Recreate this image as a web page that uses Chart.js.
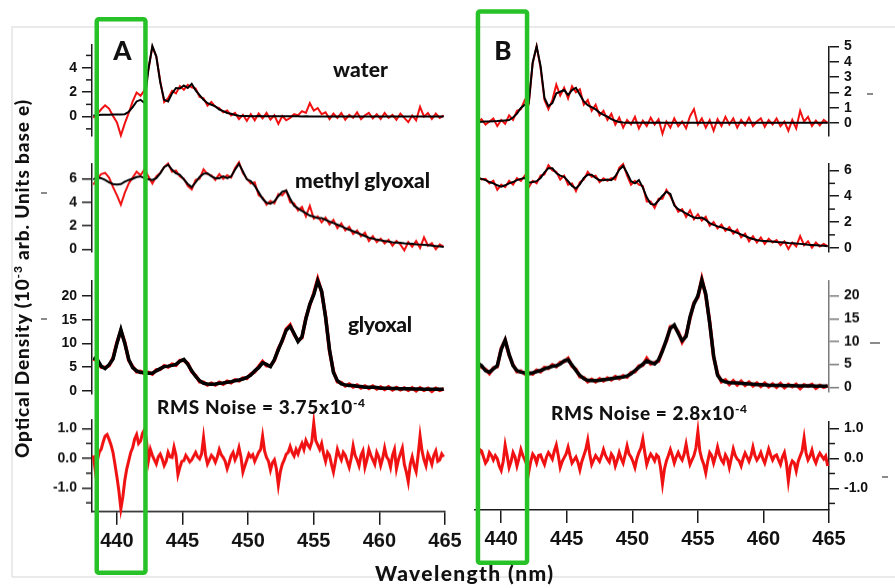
<!DOCTYPE html>
<html>
<head>
<meta charset="utf-8">
<script src="https://cdn.jsdelivr.net/npm/chart.js@4.4.1/dist/chart.umd.min.js"></script>
<style>
  body { margin: 0; background: #fff; }
  #fig { position: relative; width: 895px; height: 588px; overflow: hidden; background: #fff; }
  #fig canvas { position: absolute; }
  #overlay { position: absolute; left: 0; top: 0; pointer-events: none; }
</style>
</head>
<body>
<div id="fig">
<svg id="overlay" width="895" height="588" font-family="Lato, 'Open Sans', sans-serif" font-weight="900" fill="#111">
  <path d="M12 577 V27 H900 M12 577 H900" fill="none" stroke="#e3e3e3" stroke-width="1.5"/>
  <path d="M41 193h6 M41 319h6 M867 94h6 M870 343h10 M882 477h6" stroke="#666" stroke-width="1.5"/>
  <rect x="96.75" y="19.25" width="48.7" height="553.5" rx="2" fill="none" stroke="#27c227" stroke-width="4.5"/>
  <rect x="477.95" y="11.55" width="49.1" height="551.2" rx="2" fill="none" stroke="#27c227" stroke-width="4.5"/>
  <text x="122.5" y="60" font-size="26" text-anchor="middle">A</text>
  <text x="503" y="60" font-size="26" text-anchor="middle">B</text>
  <text x="360.5" y="76.7" font-size="21" text-anchor="middle" textLength="55">water</text>
  <text x="362.5" y="188" font-size="21" text-anchor="middle" textLength="135">methyl glyoxal</text>
  <text x="380" y="331.5" font-size="21" text-anchor="middle" textLength="64">glyoxal</text>
  <text x="157" y="414" font-size="19" textLength="208">RMS Noise = 3.75x10<tspan dy="-7" font-size="12">-4</tspan></text>
  <text x="551" y="419.5" font-size="19" textLength="196">RMS Noise = 2.8x10<tspan dy="-7" font-size="12">-4</tspan></text>
  <text x="464" y="581" font-size="21" text-anchor="middle" textLength="178">Wavelength (nm)</text>
  <text transform="translate(29,279) rotate(-90)" font-size="19" text-anchor="middle" textLength="358">Optical Density (10<tspan dy="-7" font-size="12">-3</tspan><tspan dy="7"> arb. Units base e)</tspan></text>
</svg>
</div>
<script>
// wavelength grid (nm) for the spectra and fits
const wavelength = [
  438.2, 438.5, 438.8, 439.1, 439.4, 439.7, 440.0, 440.3, 440.6, 440.9,
  441.2, 441.5, 441.8, 442.1, 442.4, 442.7, 443.0, 443.3, 443.6, 443.9,
  444.2, 444.5, 444.8, 445.1, 445.4, 445.7, 446.0, 446.3, 446.6, 446.9,
  447.2, 447.5, 447.8, 448.1, 448.4, 448.7, 449.0, 449.3, 449.6, 449.9,
  450.2, 450.5, 450.8, 451.1, 451.4, 451.7, 452.0, 452.3, 452.6, 452.9,
  453.2, 453.5, 453.8, 454.1, 454.4, 454.7, 455.0, 455.3, 455.6, 455.9,
  456.2, 456.5, 456.8, 457.1, 457.4, 457.7, 458.0, 458.3, 458.6, 458.9,
  459.2, 459.5, 459.8, 460.1, 460.4, 460.7, 461.0, 461.3, 461.6, 461.9,
  462.2, 462.5, 462.8, 463.1, 463.4, 463.7, 464.0, 464.3, 464.6, 464.9
];
// finer grid for the residuals
const wavelengthFine = [
  438.20, 438.35, 438.50, 438.65, 438.80, 438.95, 439.10, 439.25, 439.40, 439.55,
  439.70, 439.85, 440.00, 440.15, 440.30, 440.45, 440.60, 440.75, 440.90, 441.05,
  441.20, 441.35, 441.50, 441.65, 441.80, 441.95, 442.10, 442.25, 442.40, 442.55,
  442.70, 442.85, 443.00, 443.15, 443.30, 443.45, 443.60, 443.75, 443.90, 444.05,
  444.20, 444.35, 444.50, 444.65, 444.80, 444.95, 445.10, 445.25, 445.40, 445.55,
  445.70, 445.85, 446.00, 446.15, 446.30, 446.45, 446.60, 446.75, 446.90, 447.05,
  447.20, 447.35, 447.50, 447.65, 447.80, 447.95, 448.10, 448.25, 448.40, 448.55,
  448.70, 448.85, 449.00, 449.15, 449.30, 449.45, 449.60, 449.75, 449.90, 450.05,
  450.20, 450.35, 450.50, 450.65, 450.80, 450.95, 451.10, 451.25, 451.40, 451.55,
  451.70, 451.85, 452.00, 452.15, 452.30, 452.45, 452.60, 452.75, 452.90, 453.05,
  453.20, 453.35, 453.50, 453.65, 453.80, 453.95, 454.10, 454.25, 454.40, 454.55,
  454.70, 454.85, 455.00, 455.15, 455.30, 455.45, 455.60, 455.75, 455.90, 456.05,
  456.20, 456.35, 456.50, 456.65, 456.80, 456.95, 457.10, 457.25, 457.40, 457.55,
  457.70, 457.85, 458.00, 458.15, 458.30, 458.45, 458.60, 458.75, 458.90, 459.05,
  459.20, 459.35, 459.50, 459.65, 459.80, 459.95, 460.10, 460.25, 460.40, 460.55,
  460.70, 460.85, 461.00, 461.15, 461.30, 461.45, 461.60, 461.75, 461.90, 462.05,
  462.20, 462.35, 462.50, 462.65, 462.80, 462.95, 463.10, 463.25, 463.40, 463.55,
  463.70, 463.85, 464.00, 464.15, 464.30, 464.45, 464.60, 464.75, 464.90
];

// ---- panel A ----
const waterA = [
  -0.1, 0.2, 0.6, 0.92, 0.66, 0.05, -0.48, -1.53, -0.55, 0.3,
  1.24, 1.97, 1.71, 2.15, 3.87, 5.7, 4.9, 2.9, 1.2, 1.5,
  2.1, 1.9, 2.5, 2.2, 2.6, 2.4, 2.3, 1.6, 1.5, 0.9,
  1.2, 0.8, 0.7, 0.35, 0.5, 0.1, 0.3, -0.2, 0.15, -0.35,
  0.2, -0.3, 0.25, -0.15, 0.3, -0.25, 0.1, -0.6, 0.05, -0.3,
  -0.1, 0.2, 0.1, 0.45, 0.3, 1.1, 0.5, 0.7, 0.2, 0.35,
  -0.2, 0.25, -0.1, 0.3, -0.25, 0.15, -0.1, 0.35, -0.2, 0.1,
  0.3, -0.15, 0.2, -0.2, 0.3, -0.1, 0.15, -0.25, 0.25, -0.1,
  -0.45, 0.1, -0.3, 0.8, 0.0, 0.3, -0.2, 0.25, -0.1, 0.1
];
const waterFitA = [
  0.1, 0.12, 0.15, 0.15, 0.15, 0.18, 0.18, 0.18, 0.2, 0.4,
  0.78, 1.24, 1.37, 1.1, 3.87, 5.77, 4.93, 2.8, 1.37, 1.24,
  1.9, 2.34, 2.3, 2.55, 2.34, 2.68, 2.15, 1.76, 1.37, 1.1,
  0.97, 0.84, 0.58, 0.45, 0.3, 0.23, 0.13, 0.08, 0.05, 0.05,
  0.04, 0.04, 0.05, 0.04, 0.04, 0.03, 0.04, 0.03, 0.03, 0.03,
  0.03, 0.03, 0.03, 0.02, 0.03, 0.02, 0.02, 0.02, 0.02, 0.02,
  0.02, 0.02, 0.02, 0.02, 0.02, 0.02, 0.02, 0.02, 0.02, 0.02,
  0.02, 0.02, 0.02, 0.02, 0.02, 0.02, 0.02, 0.02, 0.02, 0.02,
  0.02, 0.02, 0.02, 0.02, 0.02, 0.02, 0.02, 0.02, 0.02, 0.02
];
const methylA = [
  5.5, 6.0, 6.4, 6.5, 6.1, 5.3, 4.6, 3.8, 4.8, 5.6,
  6.1, 6.6, 6.3, 6.8, 6.2, 5.6, 6.2, 6.5, 7.0, 7.3,
  6.6, 6.7, 6.2, 6.0, 5.4, 5.1, 5.9, 6.0, 6.8, 6.4,
  6.3, 5.9, 6.4, 6.0, 6.3, 6.1, 6.9, 7.4, 6.5, 6.0,
  5.6, 5.7, 4.6, 4.4, 3.8, 4.1, 3.9, 4.7, 4.6, 5.0,
  4.0, 3.9, 3.3, 3.6, 2.8, 3.7, 2.6, 2.8, 2.3, 2.7,
  2.1, 2.5, 1.8, 2.2, 1.6, 1.9, 1.3, 1.6, 1.1, 1.4,
  0.7, 1.1, 0.6, 0.9, 0.5, 0.8, 0.3, 0.7, 0.4, -0.1,
  0.6, 0.2, 0.7, 0.1, 1.0, 0.3, 0.5, 0.0, 0.4, 0.2
];
const methylFitA = [
  5.95, 6.1, 6.05, 5.9, 5.7, 5.55, 5.5, 5.55, 5.75, 5.9,
  6.0, 6.15, 6.2, 6.05, 5.95, 5.9, 6.05, 6.47, 7.0, 7.2,
  6.77, 6.47, 6.34, 5.95, 5.55, 5.28, 5.7, 6.15, 6.44, 6.47,
  6.2, 6.05, 6.05, 6.2, 6.05, 6.2, 6.77, 7.28, 6.63, 5.95,
  5.8, 5.4, 4.85, 4.3, 3.96, 3.88, 4.07, 4.52, 4.9, 5.0,
  4.3, 3.7, 3.47, 3.25, 3.06, 2.86, 2.78, 2.64, 2.64, 2.5,
  2.36, 2.23, 2.09, 1.95, 1.8, 1.66, 1.53, 1.4, 1.26, 1.12,
  0.98, 0.9, 0.81, 0.75, 0.7, 0.64, 0.59, 0.56, 0.53, 0.5,
  0.48, 0.45, 0.42, 0.4, 0.37, 0.34, 0.3, 0.27, 0.24, 0.2
];
const glyoxalA = [
  6.7, 6.4, 5.0, 4.9, 5.3, 6.9, 10.2, 12.7, 10.2, 6.4,
  5.1, 4.0, 4.1, 3.6, 3.9, 3.5, 4.4, 4.5, 5.3, 5.0,
  5.6, 5.4, 6.4, 6.4, 5.8, 4.0, 3.2, 1.9, 1.8, 1.2,
  1.6, 1.2, 1.8, 1.4, 2.0, 1.7, 2.3, 2.1, 2.7, 2.6,
  3.5, 4.0, 5.1, 6.2, 5.3, 5.3, 6.4, 8.9, 10.5, 13.0,
  13.9, 11.9, 10.6, 11.2, 15.4, 18.1, 20.6, 23.6, 20.8, 15.7,
  8.4, 4.1, 1.9, 1.7, 1.0, 1.4, 0.8, 1.2, 0.6, 1.0,
  0.5, 1.0, 0.4, 0.8, 0.3, 0.8, 0.2, 0.7, 0.2, 0.6,
  0.1, 0.6, 0.0, 0.6, 0.1, 0.5, -0.1, 0.5, 0.1, 0.4
];
const glyoxalFitA = [
  6.95, 6.6, 5.2, 4.67, 5.5, 6.7, 10.0, 12.9, 10.0, 6.6,
  4.88, 4.2, 3.85, 3.85, 3.7, 3.7, 4.2, 4.67, 5.1, 5.2,
  5.36, 5.57, 6.25, 6.6, 5.57, 4.2, 3.03, 2.13, 1.58, 1.44,
  1.37, 1.44, 1.58, 1.65, 1.79, 1.92, 2.13, 2.27, 2.47, 2.82,
  3.3, 4.2, 4.88, 5.9, 5.57, 5.09, 6.6, 8.66, 10.7, 12.8,
  13.6, 12.1, 10.4, 11.4, 15.2, 18.3, 20.3, 23.2, 21.0, 15.5,
  8.66, 3.85, 2.13, 1.44, 1.24, 1.1, 1.1, 0.96, 0.9, 0.76,
  0.76, 0.76, 0.7, 0.55, 0.55, 0.55, 0.5, 0.48, 0.45, 0.42,
  0.4, 0.38, 0.36, 0.35, 0.34, 0.33, 0.32, 0.31, 0.3, 0.3
];
const residualA = [
  0.1, -0.4, -0.08, 0.2, 0.31, 0.55, 0.75, 0.8, 0.64, 0.45,
  0.2, -0.2, -0.63, -1.1, -1.7, -1.3, -0.74, -0.35, -0.08, 0.2,
  0.36, 0.65, 0.8, 0.5, 0.58, 0.85, 0.97, 0.6, -0.08, 0.3,
  0.1, -0.05, -0.19, 0.05, 0.14, -0.02, -0.24, -0.1, 0.2, 0.05,
  0.03, 0.38, 0.1, -0.55, -0.3, -0.1, -0.08, 0.1, 0.0, -0.12,
  -0.05, 0.08, 0.2, 0.05, -0.02, 0.15, 0.7, 0.12, -0.19, -0.05,
  0.1, 0.02, -0.13, 0.05, 0.3, 0.12, 0.03, -0.1, -0.35, -0.15,
  0.08, 0.2, -0.05, 0.1, 0.36, 0.05, -0.46, -0.25, -0.05, 0.15,
  0.05, 0.12, -0.1, 0.05, 0.2, 0.3, 0.75, 0.25, 0.03, -0.1,
  -0.4, -0.15, -0.05, -0.35, -0.9, -0.45, -0.2, -0.05, 0.14, 0.2,
  0.4, 0.2, 0.08, 0.3, 0.15, 0.35, 0.5, 0.3, 0.6, 0.45,
  0.35, 0.55, 1.19, 0.6, 0.45, 0.3, 0.5, 0.15, -0.1, 0.2,
  0.1, -0.2, -0.46, -0.1, 0.3, 0.1, -0.05, 0.2, 0.1, -0.1,
  -0.3, 0.0, 0.42, 0.1, -0.05, -0.25, 0.1, 0.25, -0.3, -0.05,
  0.3, 0.1, -0.05, -0.2, 0.2, 0.05, -0.24, 0.0, 0.35, 0.05,
  -0.05, -0.3, 0.1, 0.3, -0.35, -0.05, 0.15, 0.35, -0.2, -0.45,
  -0.79, -0.2, 0.05, -0.25, -0.45, 0.1, 0.75, 0.25, -0.05, -0.25,
  0.15, 0.0, -0.2, 0.1, 0.25, -0.1, -0.05, 0.15, 0.05
];

// ---- panel B ----
const waterB = [
  0.05, 0.25, -0.1, 0.1, 0.3, -0.2, 0.2, -0.05, 0.5, 0.2,
  0.8, 0.9, 1.5, 1.25, 3.9, 5.0, 3.6, 1.5, 0.9, 1.5,
  2.5, 1.8, 2.3, 1.6, 2.4, 2.0, 2.2, 1.2, 1.5, 0.8,
  1.2, 0.5, 0.8, 0.2, 0.6, -0.1, 0.35, -0.3, 0.2, -0.1,
  0.4, -0.35, 0.15, -0.2, 0.35, -0.1, 0.25, -0.7, 0.1, -0.3,
  0.3, -0.2, 0.1, -0.35, 0.45, 0.9, -0.1, 0.3, -0.3, 0.2,
  -0.5, 0.25, -0.2, 0.4, -0.1, 0.3, -0.3, 0.2, -0.15, 0.35,
  -0.2, 0.1, 0.3, -0.25, 0.2, -0.1, 0.3, -0.2, 0.1, -0.5,
  0.2, -0.35, 0.8, 0.1, 0.4, -0.2, 0.15, -0.15, 0.2, 0.0
];
const waterFitB = [
  0.05, 0.08, 0.1, 0.1, 0.12, 0.13, 0.15, 0.17, 0.19, 0.36,
  0.61, 0.99, 1.2, 1.3, 3.95, 5.0, 3.73, 1.63, 1.1, 1.3,
  1.94, 2.04, 2.15, 1.84, 2.15, 2.3, 1.84, 1.41, 1.16, 1.03,
  0.89, 0.68, 0.53, 0.42, 0.25, 0.15, 0.06, 0.03, 0.02, 0.02,
  0.03, 0.02, 0.02, 0.03, 0.02, 0.02, 0.03, 0.02, 0.02, 0.02,
  0.02, 0.02, 0.02, 0.02, 0.02, 0.02, 0.02, 0.02, 0.02, 0.02,
  0.02, 0.02, 0.02, 0.02, 0.02, 0.02, 0.02, 0.02, 0.02, 0.02,
  0.02, 0.02, 0.02, 0.02, 0.02, 0.02, 0.02, 0.02, 0.02, 0.02,
  0.02, 0.02, 0.02, 0.02, 0.02, 0.02, 0.02, 0.02, 0.02, 0.02
];
const methylB = [
  5.5, 5.3, 5.35, 5.0, 5.2, 4.5, 4.9, 4.7, 5.2, 4.9,
  5.4, 5.2, 5.6, 4.7, 5.2, 5.0, 5.6, 5.7, 6.4, 6.0,
  5.9, 5.3, 5.6, 4.9, 5.0, 4.4, 5.1, 5.3, 5.9, 5.5,
  5.6, 5.1, 5.4, 5.2, 5.4, 5.3, 6.2, 6.5, 5.6, 4.9,
  5.2, 4.9, 4.8, 3.6, 3.6, 3.1, 3.8, 3.8, 4.5, 4.0,
  3.4, 2.8, 3.0, 2.4, 2.9, 2.2, 2.6, 2.1, 2.4, 1.7,
  2.0, 1.5, 1.8, 1.3, 1.6, 1.1, 1.4, 0.8, 1.1, 0.5,
  0.9, 0.4, 0.8, 0.3, 0.7, 0.4, 0.6, 0.2, 0.5, -0.1,
  0.4, 0.1, 0.9, 0.2, 0.5, 0.0, 0.4, 0.1, 0.3, 0.1
];
const methylFitB = [
  5.42, 5.35, 5.25, 5.1, 5.0, 4.85, 4.75, 4.85, 5.0, 5.1,
  5.25, 5.35, 5.42, 5.05, 5.1, 5.17, 5.42, 5.85, 6.18, 6.18,
  5.8, 5.6, 5.5, 5.17, 4.8, 4.6, 4.92, 5.42, 5.67, 5.67,
  5.42, 5.25, 5.25, 5.3, 5.25, 5.55, 6.05, 6.35, 5.8, 5.17,
  5.0, 5.25, 4.67, 3.92, 3.4, 3.34, 3.67, 4.04, 4.35, 4.17,
  3.29, 2.99, 2.84, 2.66, 2.49, 2.34, 2.29, 2.34, 2.16, 1.91,
  1.78, 1.66, 1.58, 1.48, 1.38, 1.28, 1.16, 1.03, 0.91, 0.78,
  0.68, 0.6, 0.55, 0.53, 0.5, 0.48, 0.45, 0.43, 0.4, 0.37,
  0.35, 0.32, 0.3, 0.27, 0.24, 0.22, 0.2, 0.17, 0.15, 0.12
];
const glyoxalB = [
  5.5, 4.4, 3.9, 3.0, 4.2, 4.5, 8.5, 10.3, 7.0, 4.9,
  3.4, 3.5, 2.9, 3.2, 2.9, 3.7, 3.4, 4.3, 4.1, 4.9,
  4.5, 5.4, 5.6, 6.3, 4.6, 3.9, 2.3, 2.1, 1.2, 1.7,
  1.2, 1.8, 1.4, 2.0, 1.6, 2.3, 1.9, 2.5, 2.2, 3.2,
  3.4, 4.6, 4.8, 6.3, 5.1, 5.4, 5.7, 8.2, 10.1, 13.2,
  13.3, 12.1, 9.9, 11.4, 15.1, 18.5, 19.7, 23.7, 20.1, 14.3,
  6.6, 2.9, 1.2, 1.6, 0.6, 1.4, 0.5, 1.3, 0.4, 1.1,
  0.3, 0.9, 0.2, 0.9, 0.1, 0.7, 0.0, 0.8, -0.1, 0.6,
  0.1, 0.6, -0.3, 0.5, 0.2, 0.6, -0.2, 0.4, 0.0, 0.3
];
const glyoxalFitB = [
  5.28, 4.71, 3.65, 3.28, 4.0, 4.71, 8.27, 10.3, 7.2, 4.71,
  3.65, 3.28, 3.14, 2.93, 3.14, 3.43, 3.65, 4.0, 4.28, 4.57,
  4.71, 5.07, 5.78, 6.0, 4.85, 3.65, 2.58, 1.87, 1.5, 1.43,
  1.43, 1.5, 1.65, 1.72, 1.87, 2.0, 2.15, 2.22, 2.44, 2.93,
  3.65, 4.35, 5.07, 5.78, 5.42, 5.07, 6.0, 7.92, 10.4, 12.9,
  13.6, 11.8, 10.2, 11.1, 15.4, 18.2, 20.0, 23.4, 20.4, 14.0,
  6.85, 2.58, 1.5, 1.15, 1.0, 0.93, 0.93, 0.86, 0.79, 0.72,
  0.65, 0.58, 0.55, 0.5, 0.45, 0.42, 0.4, 0.38, 0.36, 0.34,
  0.32, 0.3, 0.3, 0.28, 0.27, 0.26, 0.25, 0.25, 0.24, 0.24
];
const residualB = [
  -0.1, 0.3, 0.25, 0.05, -0.15, -0.05, 0.2, 0.1, -0.05, 0.1,
  0.0, -0.25, -0.4, -0.1, 0.45, 0.1, -0.3, -0.1, 0.2, 0.05,
  -0.25, 0.0, 0.3, 0.1, -0.05, -0.2, -0.45, -0.1, 0.15, 0.05,
  -0.15, 0.1, 0.12, -0.05, -0.2, 0.05, 0.2, 0.1, -0.02, 0.25,
  0.45, 0.1, -0.3, -0.1, 0.03, 0.15, 0.38, 0.1, -0.15, -0.05,
  0.05, -0.12, -0.38, -0.1, 0.1, 0.3, 0.62, 0.15, -0.2, -0.05,
  0.1, 0.0, -0.1, 0.08, 0.3, 0.1, -0.02, -0.12, 0.15, 0.05,
  -0.25, -0.05, 0.2, 0.0, -0.15, 0.12, 0.42, 0.15, 0.05, -0.1,
  -0.3, 0.0, 0.2, 0.35, 0.65, 0.2, -0.2, 0.0, 0.15, 0.05,
  -0.08, 0.12, 0.05, -0.3, -0.84, -0.35, -0.08, 0.1, 0.3, 0.1,
  -0.15, 0.05, 0.2, 0.05, -0.05, 0.15, 0.48, 0.1, -0.2, -0.05,
  0.1, 0.35, 0.9, 0.25, -0.02, -0.2, -0.48, -0.1, 0.2, 0.1,
  -0.15, 0.08, 0.38, 0.12, -0.05, -0.15, 0.12, 0.0, -0.3, 0.0,
  0.32, 0.1, -0.02, -0.08, -0.25, 0.0, 0.18, 0.05, -0.1, 0.08,
  0.38, 0.1, -0.05, 0.05, 0.2, 0.0, -0.15, 0.08, 0.32, 0.12,
  -0.05, 0.08, 0.12, -0.05, -0.2, 0.05, 0.2, -0.15, -0.75, -0.25,
  -0.08, -0.15, -0.42, -0.1, 0.08, 0.25, 0.69, 0.18, -0.05, 0.08,
  0.28, 0.0, -0.15, 0.05, 0.18, 0.08, -0.02, 0.08, -0.25
];

const RED = '#f01212';
const BLACK = '#000';
const PAD = 12, AXIS_W = 60, XAXIS_H = 48, SIDE = 26;
const X_FONT = { family: 'Liberation Sans', weight: 'bold', size: 20 };
const Y_FONT = { family: 'Liberation Sans', weight: 'bold', size: 14 };

function isMajor(v, every) {
  const r = v / every;
  return Math.abs(r - Math.round(r)) < 1e-6;
}

// short unlabeled ticks between the labeled ones
const minorTicks = {
  id: 'minorTicks',
  afterDraw(chart, args, opts) {
    const s = chart.scales.y;
    const ctx = chart.ctx;
    const onLeft = s.options.position === 'left';
    const x0 = onLeft ? chart.chartArea.left : chart.chartArea.right;
    ctx.save();
    ctx.strokeStyle = opts.color;
    ctx.lineWidth = 1.5;
    s.ticks.forEach(t => {
      if (isMajor(t.value, opts.every)) return;
      const y = s.getPixelForValue(t.value);
      ctx.beginPath();
      ctx.moveTo(x0, y);
      ctx.lineTo(onLeft ? x0 - 6 : x0 + 6, y);
      ctx.stroke();
    });
    ctx.restore();
  }
};

function trace(xs, values, color, width, order) {
  return {
    data: xs.map((x, i) => ({ x: x, y: values[i] })),
    borderColor: color,
    borderWidth: width,
    pointRadius: 0,
    tension: 0,
    order: order,
    clip: false
  };
}

function subplot(p) {
  const fig = document.getElementById('fig');
  const cv = document.createElement('canvas');
  const w = (p.right - p.left) + AXIS_W + SIDE;
  const h = (p.bottom - p.top) + PAD + (p.xAxis ? XAXIS_H : PAD);
  const onLeft = p.side === 'left';
  cv.width = w; cv.height = h;
  cv.style.width = w + 'px'; cv.style.height = h + 'px';
  cv.style.left = (onLeft ? p.left - AXIS_W : p.left - SIDE) + 'px';
  cv.style.top = (p.top - PAD) + 'px';
  fig.insertBefore(cv, document.getElementById('overlay'));
  const axisColor = p.axisColor || '#1a1a1a';

  const datasets = [trace(p.xs || wavelength, p.meas, RED, p.measWidth, 1)];
  if (p.fit) datasets.push(trace(wavelength, p.fit, BLACK, p.fitWidth, 0));

  new Chart(cv, {
    type: 'line',
    data: { datasets: datasets },
    options: {
      responsive: false,
      animation: false,
      devicePixelRatio: 1,
      layout: { padding: { top: PAD, bottom: p.xAxis ? 0 : PAD, left: onLeft ? 0 : SIDE, right: onLeft ? SIDE : 0 } },
      plugins: {
        legend: { display: false },
        tooltip: { enabled: false },
        minorTicks: { every: p.every, color: axisColor }
      },
      scales: {
        x: {
          type: 'linear',
          min: p.xMin,
          max: 465,
          display: !!p.xAxis,
          grid: { drawOnChartArea: false, tickLength: 13, color: '#1a1a1a', lineWidth: 1.5 },
          border: { color: '#1a1a1a', width: 1.5 },
          ticks: { stepSize: 5, includeBounds: false, autoSkip: false, maxRotation: 0, font: X_FONT, color: '#111', padding: 4 },
          afterFit: s => { if (p.xAxis) s.height = XAXIS_H; }
        },
        y: {
          position: p.side,
          min: p.yMin,
          max: p.yMax,
          grid: {
            drawOnChartArea: false,
            tickLength: 10,
            lineWidth: 1.5,
            tickColor: c => (c.tick && isMajor(c.tick.value, p.every)) ? axisColor : 'rgba(0,0,0,0)'
          },
          border: { color: axisColor, width: 1.5 },
          ticks: {
            stepSize: p.step,
            includeBounds: false,
            autoSkip: false,
            font: Y_FONT,
            color: '#111',
            padding: 5,
            callback: v => isMajor(v, p.every) ? Number(v).toFixed(p.digits) : ''
          },
          afterFit: s => { s.width = AXIS_W; }
        }
      }
    },
    plugins: [minorTicks]
  });
}

const A = { side: 'left', left: 92, right: 445, xMin: 438.1 };
const B = { side: 'right', left: 475, right: 829, xMin: 438.0 };

// panel A
subplot(Object.assign({}, A, { top: 42.7, bottom: 136.9, yMin: -1.55, yMax: 5.9, step: 1, every: 2, digits: 0,
  meas: waterA, fit: waterFitA, measWidth: 2, fitWidth: 2 }));
subplot(Object.assign({}, A, { top: 162, bottom: 252.7, yMin: -0.2, yMax: 7.3, step: 2, every: 2, digits: 0,
  meas: methylA, fit: methylFitA, measWidth: 2, fitWidth: 2 }));
subplot(Object.assign({}, A, { top: 279, bottom: 395, yMin: -0.6, yMax: 23.3, step: 5, every: 5, digits: 0,
  meas: glyoxalA, fit: glyoxalFitA, measWidth: 3.5, fitWidth: 3.5 }));
subplot(Object.assign({}, A, { top: 418.3, bottom: 512.3, yMin: -1.8, yMax: 1.31, step: 0.5, every: 1, digits: 1,
  xs: wavelengthFine, meas: residualA, measWidth: 3, xAxis: true }));

// panel B
subplot(Object.assign({}, B, { top: 45, bottom: 137, yMin: -0.82, yMax: 5.0, step: 1, every: 1, digits: 0,
  meas: waterB, fit: waterFitB, measWidth: 2, fitWidth: 2 }));
subplot(Object.assign({}, B, { top: 161.7, bottom: 253, yMin: -0.3, yMax: 6.55, step: 1, every: 2, digits: 0,
  meas: methylB, fit: methylFitB, measWidth: 2, fitWidth: 2 }));
subplot(Object.assign({}, B, { top: 279.3, bottom: 393, yMin: -0.95, yMax: 23.35, step: 5, every: 5, digits: 0,
  meas: glyoxalB, fit: glyoxalFitB, measWidth: 3.5, fitWidth: 3.5, axisColor: '#7a7a7a' }));
subplot(Object.assign({}, B, { top: 420, bottom: 510, yMin: -1.72, yMax: 1.24, step: 0.5, every: 1, digits: 1,
  xs: wavelengthFine, meas: residualB, measWidth: 3, xAxis: true }));
</script>
</body>
</html>
